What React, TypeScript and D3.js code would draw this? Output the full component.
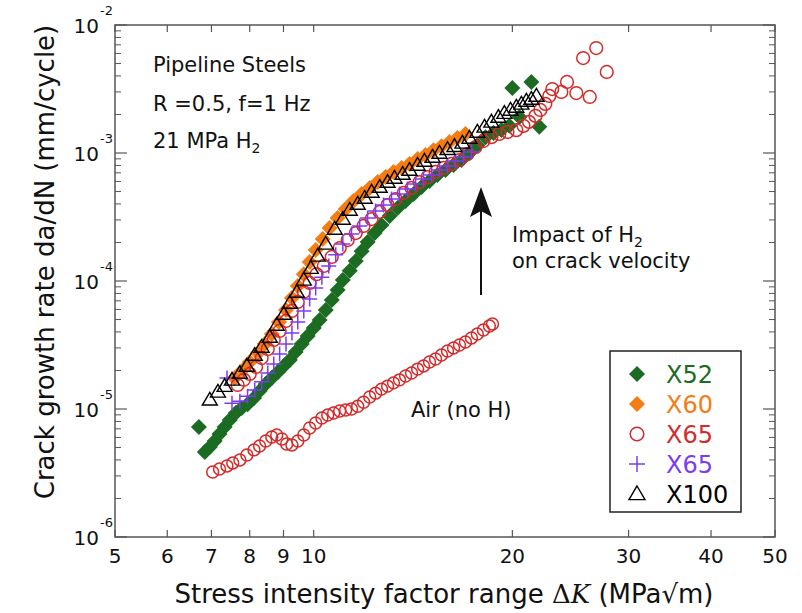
import * as React from 'react';
import * as d3 from 'd3';

// stress intensity factor range (MPa√m), crack growth rate (mm/cycle)
const xTicks = [5, 6, 7, 8, 9, 10, 20, 30, 40, 50];
const yDecades = [-6, -5, -4, -3, -2];

const x52: [number, number][] = [
  [6.70, 7.23e-6], [6.84, 4.61e-6], [6.96, 5.05e-6], [7.08, 5.62e-6], [7.20, 6.38e-6], [7.33, 7.23e-6],
  [7.46, 8.21e-6], [7.62, 9.31e-6], [7.78, 1.02e-5], [7.94, 1.09e-5], [8.12, 1.22e-5], [8.28, 1.38e-5],
  [8.46, 1.57e-5], [8.64, 1.75e-5], [8.83, 1.95e-5], [9.01, 2.17e-5], [9.20, 2.41e-5], [9.39, 2.79e-5],
  [9.59, 3.22e-5], [9.79, 3.72e-5], [10.0, 4.30e-5], [10.21, 4.96e-5], [10.43, 5.93e-5], [10.65, 7.11e-5],
  [10.87, 8.51e-5], [11.07, 1.02e-4], [11.34, 1.20e-4], [11.58, 1.43e-4], [11.82, 1.71e-4], [12.07, 2.02e-4],
  [12.37, 2.37e-4], [12.67, 2.74e-4], [13.03, 3.22e-4], [13.40, 3.72e-4], [13.78, 4.22e-4], [14.17, 4.79e-4],
  [14.57, 5.42e-4], [14.98, 6.04e-4], [15.40, 6.73e-4], [15.84, 7.36e-4], [16.29, 8.06e-4], [16.75, 8.81e-4],
  [17.22, 1.0e-3], [17.70, 1.15e-3], [18.21, 1.33e-3], [18.73, 1.43e-3], [19.25, 1.51e-3], [19.79, 1.63e-3],
  [20.50, 1.91e-3], [21.97, 1.60e-3], [20.0, 3.22e-3], [21.37, 3.59e-3],
];

const x60: [number, number][] = [
  [7.59, 1.75e-5], [7.81, 2.02e-5], [8.00, 2.33e-5], [8.23, 2.74e-5], [8.43, 3.22e-5], [8.64, 3.85e-5],
  [8.86, 4.79e-5], [9.08, 5.93e-5], [9.27, 7.36e-5], [9.46, 9.14e-5], [9.66, 1.13e-4], [9.86, 1.41e-4],
  [10.07, 1.75e-4], [10.32, 2.13e-4], [10.57, 2.59e-4], [10.87, 3.10e-4], [11.18, 3.65e-4], [11.49, 4.22e-4],
  [11.82, 4.79e-4], [12.16, 5.33e-4], [12.50, 5.93e-4], [12.85, 6.49e-4], [13.21, 7.11e-4], [13.59, 7.64e-4],
  [13.97, 8.21e-4], [14.37, 8.98e-4], [14.77, 9.65e-4], [15.19, 1.05e-3], [15.62, 1.13e-3], [16.06, 1.22e-3],
  [16.51, 1.31e-3], [16.98, 1.41e-3],
];

const x65: [number, number][] = [
  [7.67, 1.54e-5], [7.84, 1.69e-5], [8.00, 1.88e-5], [8.18, 2.13e-5], [8.34, 2.50e-5], [8.52, 2.94e-5],
  [8.70, 3.46e-5], [8.88, 4.07e-5], [9.08, 4.87e-5], [9.27, 5.83e-5], [9.46, 6.86e-5], [9.66, 8.20e-5],
  [9.86, 9.65e-5], [10.10, 1.13e-4], [10.36, 1.31e-4], [10.65, 1.54e-4], [10.95, 1.81e-4], [11.26, 2.09e-4],
  [11.58, 2.37e-4], [11.90, 2.69e-4], [12.24, 3.05e-4], [12.59, 3.46e-4], [12.94, 3.92e-4], [13.31, 4.37e-4],
  [13.69, 4.87e-4], [14.07, 5.33e-4], [14.47, 5.93e-4], [14.88, 6.49e-4], [15.30, 7.11e-4], [15.73, 7.64e-4],
  [16.18, 8.21e-4], [16.63, 8.81e-4], [17.10, 9.82e-4], [17.58, 1.11e-3], [18.08, 1.24e-3], [18.59, 1.33e-3],
  [19.11, 1.41e-3], [19.66, 1.46e-3], [20.28, 1.51e-3], [20.79, 1.63e-3], [21.2, 1.75e-3], [21.68, 1.95e-3],
  [22.05, 2.17e-3], [22.44, 2.42e-3], [22.75, 2.79e-3], [22.99, 3.16e-3], [23.73, 3.00e-3], [24.2, 3.59e-3],
  [25.0, 2.94e-3], [26.2, 2.74e-3], [25.6, 5.52e-3], [26.8, 6.61e-3], [27.8, 4.30e-3],
];

const x65b: [number, number][] = [
  [7.39, 1.75e-5], [7.52, 1.11e-5], [7.73, 1.15e-5], [7.94, 1.26e-5], [8.14, 1.41e-5], [8.34, 1.63e-5],
  [8.52, 1.91e-5], [8.70, 2.25e-5], [8.88, 2.69e-5], [9.08, 3.22e-5], [9.27, 3.93e-5], [9.46, 4.79e-5],
  [9.66, 5.83e-5], [9.86, 7.23e-5], [10.07, 8.81e-5], [10.29, 1.07e-4], [10.54, 1.31e-4], [10.80, 1.60e-4],
  [11.07, 1.95e-4], [11.41, 2.33e-4], [11.74, 2.69e-4], [12.07, 3.10e-4], [12.41, 3.52e-4], [12.76, 3.92e-4],
  [13.12, 4.37e-4], [13.49, 4.79e-4], [13.87, 5.24e-4], [14.27, 5.73e-4], [14.67, 6.27e-4], [15.09, 6.73e-4],
  [15.51, 7.36e-4], [15.95, 7.91e-4], [16.40, 8.66e-4], [16.87, 9.31e-4], [17.34, 1.02e-3],
];

const x100: [number, number][] = [
  [6.96, 1.18e-5], [7.16, 1.36e-5], [7.33, 1.51e-5], [7.52, 1.69e-5], [7.73, 1.91e-5], [7.92, 2.17e-5],
  [8.14, 2.64e-5], [8.34, 3.05e-5], [8.58, 3.65e-5], [8.79, 4.53e-5], [9.01, 5.52e-5], [9.20, 6.73e-5],
  [9.43, 8.20e-5], [9.66, 1.02e-4], [9.90, 1.26e-4], [10.14, 1.57e-4], [10.43, 1.95e-4], [10.76, 2.55e-4],
  [11.07, 3.05e-4], [11.34, 3.59e-4], [11.66, 4.00e-4], [11.95, 4.45e-4], [12.24, 4.96e-4], [12.59, 5.42e-4],
  [12.94, 5.93e-4], [13.26, 6.38e-4], [13.64, 6.85e-4], [13.97, 7.36e-4], [14.37, 8.06e-4], [14.72, 8.66e-4],
  [15.14, 9.31e-4], [15.51, 1.0e-3], [15.95, 1.07e-3], [16.34, 1.13e-3], [16.80, 1.20e-3], [17.22, 1.31e-3],
  [17.70, 1.46e-3], [18.15, 1.60e-3], [18.59, 1.75e-3], [19.05, 1.91e-3], [19.45, 2.05e-3], [19.87, 2.17e-3],
  [20.28, 2.29e-3], [20.64, 2.42e-3], [21.0, 2.55e-3], [21.37, 2.64e-3], [21.75, 2.79e-3],
];

const air: [number, number][] = [
  [7.03, 3.22e-6], [7.20, 3.40e-6], [7.39, 3.59e-6], [7.54, 3.79e-6], [7.73, 4.00e-6], [7.92, 4.37e-6],
  [8.12, 4.79e-6], [8.28, 5.14e-6], [8.46, 5.62e-6], [8.64, 6.04e-6], [8.79, 6.27e-6], [8.95, 5.83e-6],
  [9.10, 5.33e-6], [9.27, 5.24e-6], [9.46, 5.62e-6], [9.66, 6.27e-6], [9.86, 7.11e-6], [10.07, 7.78e-6],
  [10.29, 8.51e-6], [10.50, 8.98e-6], [10.72, 9.31e-6], [10.95, 9.65e-6], [11.18, 9.82e-6], [11.41, 1.0e-5],
  [11.66, 1.05e-5], [11.90, 1.13e-5], [12.16, 1.24e-5], [12.41, 1.33e-5], [12.67, 1.43e-5], [12.94, 1.51e-5],
  [13.21, 1.60e-5], [13.49, 1.69e-5], [13.78, 1.81e-5], [14.07, 1.91e-5], [14.37, 2.05e-5], [14.67, 2.17e-5],
  [14.98, 2.33e-5], [15.30, 2.46e-5], [15.62, 2.64e-5], [15.95, 2.84e-5], [16.29, 3.00e-5], [16.63, 3.16e-5],
  [16.98, 3.34e-5], [17.34, 3.59e-5], [17.70, 3.85e-5], [18.08, 4.14e-5], [18.46, 4.45e-5], [18.66, 4.61e-5],
];

const series = [
  { name: 'X52', data: x52, color: '#1c6b22', shape: 'diamond' },
  { name: 'X60', data: x60, color: '#f57c12', shape: 'diamond' },
  { name: 'X65', data: x65, color: '#d42a2a', shape: 'circle' },
  { name: 'X65', data: x65b, color: '#7a3cf0', shape: 'plus' },
  { name: 'X100', data: x100, color: '#000000', shape: 'triangle' },
];

const font = 'DejaVu Sans, Bitstream Vera Sans, sans-serif';

const Marker = ({ shape, cx, cy, color, s }) => {
  if (shape === 'diamond') {
    return <path d={`M${cx},${cy - s}L${cx + s},${cy}L${cx},${cy + s}L${cx - s},${cy}Z`} fill={color} />;
  }
  if (shape === 'circle') {
    return <circle cx={cx} cy={cy} r={s * 0.85} fill='none' stroke={color} strokeWidth={1.5} />;
  }
  if (shape === 'plus') {
    return (
      <path d={`M${cx - s},${cy}H${cx + s}M${cx},${cy - s}V${cy + s}`} stroke={color} strokeWidth={1.5} fill='none' />
    );
  }
  return (
    <path
      d={`M${cx},${cy - s}L${cx + s},${cy + s * 0.7}L${cx - s},${cy + s * 0.7}Z`}
      fill='none'
      stroke={color}
      strokeWidth={1.4}
    />
  );
};

const sizeFor = (shape) => (shape === 'diamond' ? 8 : shape === 'circle' ? 7.5 : 7.5);

const App = () => {
  const width = 802;
  const height = 613;
  const left = 115, right = 775, top = 25, bottom = 537;

  const x = d3.scaleLog().domain([5, 50]).range([left, right]);
  const y = d3.scaleLog().domain([1e-6, 1e-2]).range([bottom, top]);

  const minorY: number[] = [];
  yDecades.slice(0, -1).forEach((e) => {
    for (let m = 2; m <= 9; m++) minorY.push(m * Math.pow(10, e));
  });

  const axisColor = '#555';

  return (
    <svg width={width} height={height} style={{ display: 'block', position: 'absolute', left: 0, top: 0 }}>
      <rect width={width} height={height} fill='white' />

      {/* air data */}
      {air.map((d, i) => (
        <Marker key={'a' + i} shape='circle' cx={x(d[0])} cy={y(d[1])} color='#d42a2a' s={7} />
      ))}

      {/* hydrogen data */}
      {series.map((s, si) => (
        <g key={si}>
          {s.data.map((d, i) => (
            <Marker key={i} shape={s.shape} cx={x(d[0])} cy={y(d[1])} color={s.color} s={sizeFor(s.shape)} />
          ))}
        </g>
      ))}

      {/* frame */}
      <rect x={left} y={top} width={right - left} height={bottom - top} fill='none' stroke={axisColor} strokeWidth={1.5} />

      {/* x ticks */}
      {xTicks.map((t) => (
        <g key={t}>
          <line x1={x(t)} x2={x(t)} y1={bottom} y2={bottom - 7} stroke={axisColor} strokeWidth={1.2} />
          <line x1={x(t)} x2={x(t)} y1={top} y2={top + 7} stroke={axisColor} strokeWidth={1.2} />
          <text x={x(t)} y={563} textAnchor='middle' fontFamily={font} fontSize={20} fill='#111'>
            {t}
          </text>
        </g>
      ))}

      {/* y ticks */}
      {yDecades.map((e) => {
        const v = Math.pow(10, e);
        return (
          <g key={e}>
            <line x1={left} x2={left + 12} y1={y(v)} y2={y(v)} stroke={axisColor} strokeWidth={1.2} />
            <line x1={right} x2={right - 12} y1={y(v)} y2={y(v)} stroke={axisColor} strokeWidth={1.2} />
            <text x={99} y={y(v) + 8} textAnchor='end' fontFamily={font} fontSize={20} fill='#111'>
              10
            </text>
            <text x={100} y={y(v) - 10} fontFamily={font} fontSize={13} fill='#111'>
              {'-' + -e}
            </text>
          </g>
        );
      })}
      {minorY.map((v, i) => (
        <g key={'m' + i}>
          <line x1={left} x2={left + 6} y1={y(v)} y2={y(v)} stroke={axisColor} strokeWidth={1} />
          <line x1={right} x2={right - 6} y1={y(v)} y2={y(v)} stroke={axisColor} strokeWidth={1} />
        </g>
      ))}

      {/* axis titles */}
      <text x={444} y={603} textAnchor='middle' fontFamily={font} fontSize={26} fill='#111'>
        Stress intensity factor range{' '}
        <tspan fontFamily='DejaVu Serif, serif'>Δ</tspan>
        <tspan fontFamily='DejaVu Serif, serif' fontStyle='italic'>K</tspan> (MPa√m)
      </text>
      <text
        transform='translate(54,262) rotate(-90)'
        textAnchor='middle'
        fontFamily={font}
        fontSize={26}
        fill='#111'>
        Crack growth rate da/dN (mm/cycle)
      </text>

      {/* annotations */}
      <g fontFamily={font} fontSize={21} fill='#111'>
        <text x={153} y={72}>Pipeline Steels</text>
        <text x={153} y={111}>R =0.5, f=1 Hz</text>
        <text x={153} y={148}>
          21 MPa H<tspan fontSize={14} dy={5}>2</tspan>
        </text>
        <text x={512} y={242}>
          Impact of H<tspan fontSize={14} dy={5}>2</tspan>
        </text>
        <text x={512} y={268}>on crack velocity</text>
        <text x={411} y={417}>Air (no H)</text>
      </g>

      {/* arrow */}
      <line x1={481} x2={481} y1={295} y2={208} stroke='#111' strokeWidth={2} />
      <path d='M481,187L492,217L481,211L470,217Z' fill='#111' />

      {/* legend */}
      <rect x={610} y={351} width={131} height={161} fill='white' stroke='#222' strokeWidth={1.5} />
      {series.map((s, i) => {
        const cy = 374 + i * 30;
        return (
          <g key={'l' + i}>
            <Marker shape={s.shape} cx={637} cy={cy} color={s.color} s={8} />
            <text x={666} y={cy + 9} fontFamily={font} fontSize={24} fill={s.color}>
              {s.name}
            </text>
          </g>
        );
      })}
    </svg>
  );
};

export default App;
